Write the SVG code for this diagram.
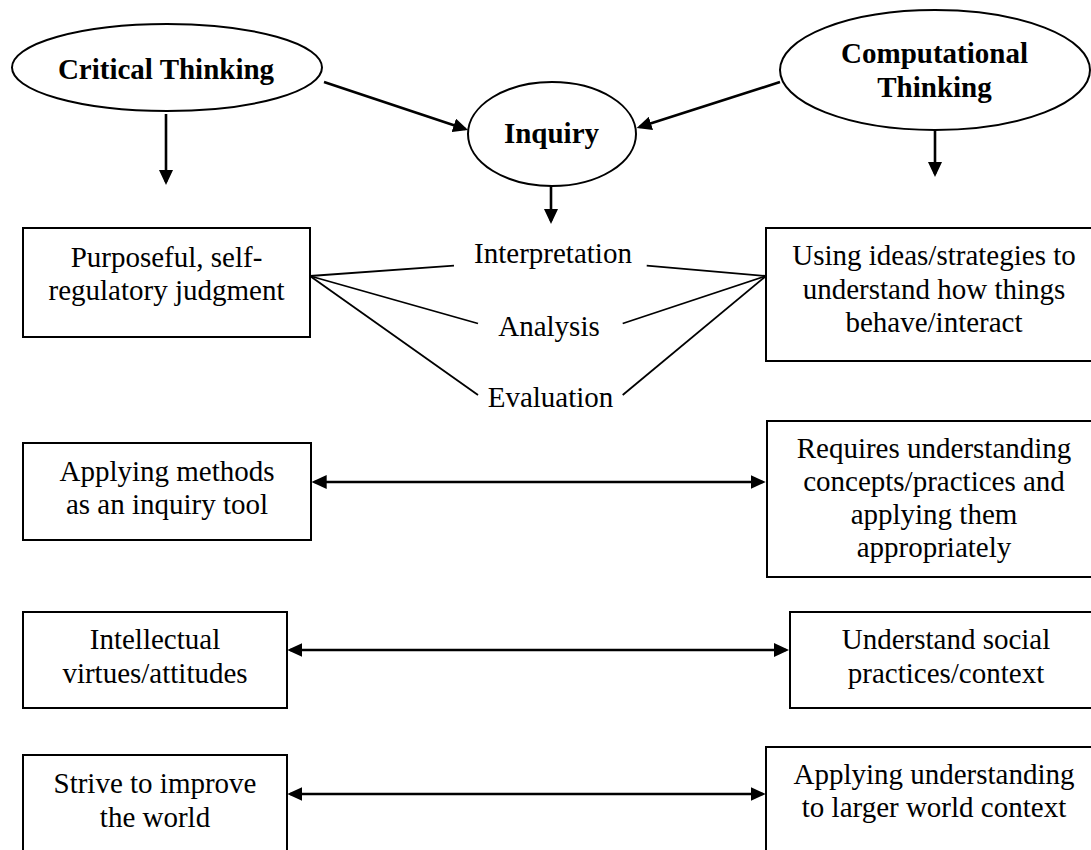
<svg xmlns="http://www.w3.org/2000/svg" width="1091" height="850" viewBox="0 0 1091 850">
<style>
.box{fill:#fff;stroke:#000;stroke-width:2}
.ell{fill:#fff;stroke:#000;stroke-width:2}
.t{font-family:"Liberation Serif","Times New Roman",serif;font-size:29px;text-anchor:middle;fill:#000}
.b{font-weight:bold}
.arr{stroke:#000;stroke-width:2.6;fill:none}
.fan{stroke:#000;stroke-width:1.8;fill:none}
</style>
<defs>
<marker id="ah" viewBox="0 0 15 14" refX="12" refY="7" markerWidth="15" markerHeight="14" markerUnits="userSpaceOnUse" orient="auto-start-reverse">
<path d="M0,0 L15,7 L0,14 z" fill="#000"/>
</marker>
</defs>
<rect width="1091" height="850" fill="#fff"/>
<g id="connectors">
<line class="arr" x1="166" y1="114" x2="166" y2="182" marker-end="url(#ah)"/>
<line class="arr" x1="324" y1="82" x2="465.2" y2="129.1" marker-end="url(#ah)"/>
<line class="arr" x1="780" y1="82" x2="639.5" y2="127.1" marker-end="url(#ah)"/>
<line class="arr" x1="935" y1="130" x2="935" y2="174" marker-end="url(#ah)"/>
<line class="arr" x1="551" y1="186" x2="551" y2="221" marker-end="url(#ah)"/>
<line class="arr" x1="314.7" y1="482" x2="762.7" y2="482" marker-start="url(#ah)" marker-end="url(#ah)"/>
<line class="arr" x1="290.3" y1="650" x2="786" y2="650" marker-start="url(#ah)" marker-end="url(#ah)"/>
<line class="arr" x1="290.3" y1="794" x2="762.7" y2="794" marker-start="url(#ah)" marker-end="url(#ah)"/>
<line class="fan" x1="310" y1="276" x2="454" y2="265.7"/>
<line class="fan" x1="310" y1="276" x2="478" y2="323.5"/>
<line class="fan" x1="310" y1="276" x2="478" y2="395"/>
<line class="fan" x1="766" y1="276" x2="646.7" y2="265.7"/>
<line class="fan" x1="766" y1="276" x2="622.7" y2="323.5"/>
<line class="fan" x1="766" y1="276" x2="622.7" y2="395"/>
</g>
<g id="critical-thinking">
<ellipse class="ell" cx="167" cy="67.5" rx="155" ry="43.5"/>
<text class="t b" x="166" y="79">Critical Thinking</text>
</g>
<g id="inquiry">
<ellipse class="ell" cx="552" cy="134" rx="84" ry="52"/>
<text class="t b" x="551.5" y="143">Inquiry</text>
</g>
<g id="computational-thinking">
<ellipse class="ell" cx="935" cy="70" rx="155" ry="60"/>
<text class="t b" x="934.5" y="63">Computational</text>
<text class="t b" x="934.5" y="97">Thinking</text>
</g>
<g id="interpretation"><text class="t" x="553" y="263">Interpretation</text></g>
<g id="analysis"><text class="t" x="549" y="336">Analysis</text></g>
<g id="evaluation"><text class="t" x="550.5" y="407">Evaluation</text></g>
<g id="purposeful">
<rect class="box" x="23" y="228" width="287" height="109"/>
<text class="t" x="166.5" y="267">Purposeful, self-</text>
<text class="t" x="166.5" y="300">regulatory judgment</text>
</g>
<g id="using-ideas">
<rect class="box" x="766" y="228" width="335" height="133"/>
<text class="t" x="934" y="265">Using ideas/strategies to</text>
<text class="t" x="934" y="299">understand how things</text>
<text class="t" x="934" y="332">behave/interact</text>
</g>
<g id="applying-methods">
<rect class="box" x="23" y="443" width="288" height="97"/>
<text class="t" x="167" y="481">Applying methods</text>
<text class="t" x="167" y="514">as an inquiry tool</text>
</g>
<g id="requires-understanding">
<rect class="box" x="767" y="421" width="334" height="156"/>
<text class="t" x="934" y="458">Requires understanding</text>
<text class="t" x="934" y="491">concepts/practices and</text>
<text class="t" x="934" y="524">applying them</text>
<text class="t" x="934" y="557">appropriately</text>
</g>
<g id="intellectual-virtues">
<rect class="box" x="23" y="612" width="264" height="96"/>
<text class="t" x="155" y="649">Intellectual</text>
<text class="t" x="155" y="683">virtues/attitudes</text>
</g>
<g id="understand-social">
<rect class="box" x="790" y="612" width="311" height="96"/>
<text class="t" x="946" y="649">Understand social</text>
<text class="t" x="946" y="683">practices/context</text>
</g>
<g id="strive">
<rect class="box" x="23" y="755" width="264" height="110"/>
<text class="t" x="155" y="793">Strive to improve</text>
<text class="t" x="155" y="827">the world</text>
</g>
<g id="applying-understanding">
<rect class="box" x="766" y="747" width="335" height="120"/>
<text class="t" x="934" y="784">Applying understanding</text>
<text class="t" x="934" y="817">to larger world context</text>
</g>
</svg>
